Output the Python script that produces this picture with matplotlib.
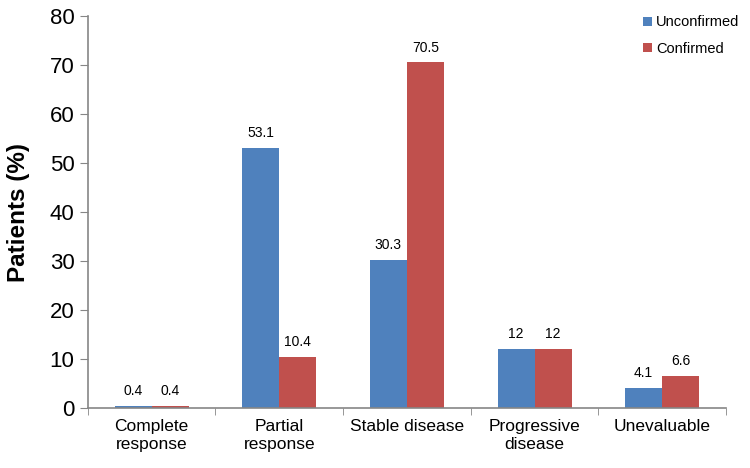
import matplotlib.pyplot as plt
import numpy as np

plt.rcParams['font.family'] = ['Liberation Sans', 'DejaVu Sans']

categories = ['Complete\nresponse', 'Partial\nresponse', 'Stable disease', 'Progressive\ndisease', 'Unevaluable']
unconfirmed = [0.4, 53.1, 30.3, 12, 4.1]
confirmed = [0.4, 10.4, 70.5, 12, 6.6]
value_labels_u = ['0.4', '53.1', '30.3', '12', '4.1']
value_labels_c = ['0.4', '10.4', '70.5', '12', '6.6']

fig = plt.figure(figsize=(7.5, 4.68), dpi=100)
ax = fig.add_axes([0.117, 0.128, 0.851, 0.838])

x = np.arange(len(categories))
w = 0.29
b1 = ax.bar(x - w / 2, unconfirmed, w, color='#4F81BD', label='Unconfirmed')
b2 = ax.bar(x + w / 2, confirmed, w, color='#C0504D', label='Confirmed')

# value labels above each bar
for bars, labs in [(b1, value_labels_u), (b2, value_labels_c)]:
    for rect, lab in zip(bars, labs):
        ax.text(rect.get_x() + rect.get_width() / 2, rect.get_height() + 1.6, lab,
                ha='center', va='bottom', fontsize=10)

ax.set_xlim(-0.5, len(categories) - 0.5)
ax.set_ylim(0, 80)
ax.set_yticks(np.arange(0, 81, 10))
ax.tick_params(axis='y', labelsize=16, length=6, color='#868686', direction='out')
ax.set_xticks(x)
ax.set_xticklabels(categories, fontsize=12.5)
ax.tick_params(axis='x', length=0, pad=8)
ax.set_xticks(np.arange(-0.5, len(categories), 1), minor=True)
ax.tick_params(axis='x', which='minor', length=5, color='#868686', direction='out')

for s in ['top', 'right']:
    ax.spines[s].set_visible(False)
for s in ['left', 'bottom']:
    ax.spines[s].set_color('#868686')
    ax.spines[s].set_linewidth(1.2)

ax.set_ylabel('Patients (%)', fontsize=17.5, fontweight='bold', labelpad=14)

fig.legend(loc='upper left', bbox_to_anchor=(0.857, 0.967), frameon=False, fontsize=10.5,
           handlelength=0.6, handleheight=0.6, handletextpad=0.3, labelspacing=0.85,
           borderaxespad=0, borderpad=0)

fig.savefig('out.png', dpi=100)
